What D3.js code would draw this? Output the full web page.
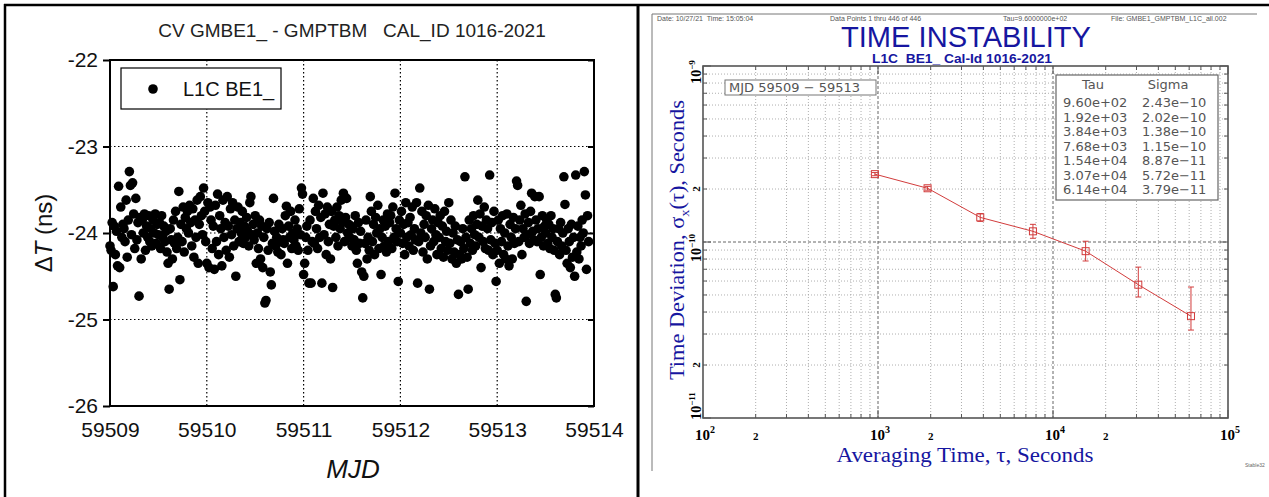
<!DOCTYPE html>
<meta charset="utf-8">
<style>
    body { margin: 0; background: #fff; }
    svg { display: block; font-family: "Liberation Sans", Arial, sans-serif; }
    .dotted line { stroke: #000; stroke-width: 1.2; stroke-dasharray: 1.5,2.5; }
    .minor line { stroke: #9a9a9a; stroke-width: 0.8; stroke-dasharray: 1,2; }
    .major line { stroke: #555; stroke-width: 0.9; stroke-dasharray: 3,2; }
    .tbl { font-family: "DejaVu Sans", sans-serif; font-size: 13px; fill: #555; }
</style>
<svg width="1269" height="497"></svg>
<script src="https://cdn.jsdelivr.net/npm/d3@7"></script>
<script>
    // ---- left panel data: CV time difference, one point every 960 s ----
    var mjdStart = 59509,
        sampleDays = 960 / 86400;

    var deltaT = [
        -24.15, -24.20, -23.88, -24.62, -23.92, -24.25, -23.98, -24.38, -23.46,
        -24.40, -23.70, -24.05, -23.90, -23.95, -24.10, -23.62, -24.28, -23.85,
        -23.29, -23.45, -24.02, -23.42, -23.78, -24.18, -23.60, -24.08, -23.88,
        -24.73, -23.82, -24.30, -23.85, -24.00, -23.78, -24.20, -23.92, -24.05,
        -23.80, -24.10, -23.95, -24.15, -23.85, -24.00, -23.78, -24.12, -23.90,
        -24.02, -23.88, -24.18, -23.80, -24.05, -23.92, -24.10, -23.98, -24.22,
        -24.35, -24.65, -23.95, -24.08, -24.30, -23.85, -24.12, -23.75, -24.18,
        -24.05, -23.52, -24.54, -23.90, -24.10, -23.70, -24.22, -23.82, -23.95,
        -23.75, -24.00, -23.68, -23.88, -24.15, -23.72, -24.28, -23.85, -24.05,
        -23.62, -24.35, -23.90, -23.58, -23.80, -24.02, -23.48, -23.75, -24.10,
        -24.35, -23.65, -24.40, -23.70, -23.85, -24.18, -23.92, -24.42, -23.68,
        -24.10, -23.55, -24.25, -23.80, -23.95, -24.38, -23.62, -24.05, -23.88,
        -24.20, -23.58, -23.92, -24.28, -23.72, -24.02, -23.65, -24.15, -23.85,
        -24.50, -23.95, -23.70, -24.10, -23.88, -24.00, -23.75, -24.12, -23.92,
        -24.05, -23.82, -23.98, -24.15, -23.65, -23.58, -24.02, -23.90, -24.08,
        -23.80, -24.35, -24.00, -24.18, -23.85, -24.30, -23.92, -24.40, -24.05,
        -24.81, -24.78, -23.95, -24.20, -23.88, -24.45, -24.60, -24.12, -23.60,
        -23.98, -24.15, -24.05, -24.22, -23.90, -24.10, -24.25, -23.95, -24.08,
        -24.12, -23.80, -23.69, -24.35, -23.92, -24.05, -23.75, -24.18, -24.00,
        -24.08, -23.85, -24.15, -23.95, -24.20, -23.72, -24.02, -23.48, -23.55,
        -24.48, -24.35, -24.05, -23.92, -24.20, -24.58, -23.85, -24.58, -24.10,
        -23.60, -24.12, -23.75, -23.95, -24.18, -23.68, -24.05, -23.82, -24.58,
        -23.54, -24.02, -23.78, -24.25, -23.70, -24.10, -23.90, -24.30, -23.75,
        -24.63, -23.92, -23.85, -24.05, -23.70, -24.15, -23.80, -23.95, -23.62,
        -23.88, -23.54, -24.10, -23.82, -23.60, -24.00, -23.90, -24.05, -23.92,
        -24.15, -23.95, -24.08, -23.80, -24.20, -24.35, -23.88, -24.12, -23.98,
        -24.45, -24.75, -24.50, -24.12, -23.85, -24.30, -24.05, -24.20, -23.58,
        -23.75, -24.10, -23.90, -24.25, -23.82, -24.00, -23.68, -24.18, -23.95,
        -24.48, -24.05, -23.85, -24.15, -23.92, -24.22, -23.78, -24.10, -23.88,
        -23.80, -24.18, -23.70, -24.05, -23.54, -23.95, -24.10, -24.56, -23.85,
        -24.00, -23.75, -24.12, -23.90, -24.25, -23.65, -24.05, -23.88, -24.15,
        -23.82, -24.02, -23.70, -24.20, -23.95, -24.08, -23.65, -24.58, -24.10,
        -23.48, -24.00, -23.75, -24.22, -23.90, -24.05, -23.80, -24.30, -23.68,
        -24.65, -24.15, -23.95, -23.85, -24.10, -23.72, -24.02, -24.25, -23.88,
        -24.05, -23.80, -24.18, -23.92, -24.28, -23.75, -24.10, -23.98, -24.20,
        -23.65, -24.12, -23.85, -24.30, -24.00, -24.22, -23.92, -24.35, -24.08,
        -24.71, -24.25, -24.10, -24.30, -23.95, -24.18, -23.35, -24.05, -24.28,
        -24.65, -23.85, -24.12, -23.95, -24.20, -23.80, -24.02, -24.15, -23.90,
        -23.62, -24.05, -23.78, -24.40, -23.92, -24.10, -23.70, -24.18, -23.85,
        -23.95, -24.20, -23.33, -24.08, -23.88, -24.25, -23.75, -24.12, -24.56,
        -24.20, -23.85, -24.35, -23.95, -24.10, -23.80, -24.25, -24.00, -24.30,
        -23.78, -24.15, -24.38, -23.90, -24.05, -24.30, -23.82, -24.12, -23.95,
        -23.40, -23.45, -24.10, -23.85, -23.68, -24.25, -23.95, -24.05, -23.78,
        -24.79, -24.02, -23.88, -24.12, -23.75, -23.54, -23.98, -24.08, -23.58,
        -23.85, -24.10, -23.95, -23.58, -24.48, -24.05, -23.80, -24.15, -23.92,
        -24.00, -23.85, -24.12, -23.90, -24.18, -23.80, -24.05, -23.95, -24.20,
        -24.71, -24.75, -24.10, -23.95, -24.25, -23.88, -24.15, -24.00, -23.35,
        -23.67, -24.20, -24.35, -23.95, -24.10, -24.40, -23.90, -24.28, -24.05,
        -24.50, -23.33, -24.22, -23.92, -24.30, -24.05, -24.15, -23.85, -24.00,
        -23.29, -23.56, -24.42, -23.80, -24.10
    ];

    var mjdTicks = [59509, 59510, 59511, 59512, 59513, 59514];
    var dtTicks = [-26, -25, -24, -23, -22];

    // ---- right panel data: time deviation ----
    var tau = [960, 1920, 3840, 7680, 15360, 30720, 61440];
    var sigma = [2.43e-10, 2.02e-10, 1.38e-10, 1.15e-10, 8.87e-11, 5.72e-11, 3.79e-11];
    var sigmaLo = [2.38e-10, 1.97e-10, 1.31e-10, 1.05e-10, 7.8e-11, 4.87e-11, 3.16e-11];
    var sigmaHi = [2.48e-10, 2.07e-10, 1.45e-10, 1.26e-10, 1.01e-10, 7.2e-11, 5.55e-11];
    var tauText = ["9.60e+02", "1.92e+03", "3.84e+03", "7.68e+03", "1.54e+04", "3.07e+04", "6.14e+04"];
    var sigmaText = ["2.43e\u221210", "2.02e\u221210", "1.38e\u221210", "1.15e\u221210", "8.87e\u221211", "5.72e\u221211", "3.79e\u221211"];
    var tauDecades = [2, 3, 4, 5];
    var sigmaDecades = [-11, -10, -9];
    var twoTau = [200, 2000, 20000];
    var twoSigma = [2e-11, 2e-10];

    var svg = d3.select("svg");

    // page / table frame
    var frame = svg.append("g").attr("stroke", "#000");
    frame.append("line").attr("x1", 4).attr("x2", 1269).attr("y1", 5).attr("y2", 5).attr("stroke-width", 2.5);
    frame.append("line").attr("x1", 5).attr("x2", 5).attr("y1", 4).attr("y2", 497).attr("stroke-width", 2.5);
    frame.append("line").attr("x1", 638).attr("x2", 638).attr("y1", 4).attr("y2", 497).attr("stroke-width", 3);

    // ================= left panel =================
    var L = { left: 110, right: 594, top: 60, bottom: 406 };
    var x = d3.scaleLinear().domain([59509, 59514]).range([L.left, L.right]);
    var y = d3.scaleLinear().domain([-26, -22]).range([L.bottom, L.top]);

    var lp = svg.append("g");

    var grid = lp.append("g").attr("class", "dotted");
    grid.selectAll(".gx").data(mjdTicks.slice(1, -1)).join("line")
        .attr("x1", d => x(d)).attr("x2", d => x(d))
        .attr("y1", L.top).attr("y2", L.bottom);
    grid.selectAll(".gy").data(dtTicks.slice(1, -1)).join("line")
        .attr("x1", L.left).attr("x2", L.right)
        .attr("y1", d => y(d)).attr("y2", d => y(d));

    lp.append("g").selectAll("circle").data(deltaT).join("circle")
        .attr("cx", (d, i) => x(mjdStart + i * sampleDays))
        .attr("cy", d => y(d))
        .attr("r", 4.8)
        .attr("fill", "#000");

    lp.append("rect")
        .attr("x", L.left).attr("y", L.top)
        .attr("width", L.right - L.left).attr("height", L.bottom - L.top)
        .attr("fill", "none").attr("stroke", "#000").attr("stroke-width", 2);

    var xAxis = lp.append("g")
        .attr("transform", "translate(0," + L.bottom + ")")
        .call(d3.axisBottom(x).tickValues(mjdTicks).tickFormat(d3.format("d")).tickSize(0).tickPadding(16));
    var yAxis = lp.append("g")
        .attr("transform", "translate(" + L.left + ",0)")
        .call(d3.axisLeft(y).tickValues(dtTicks).tickFormat(d => String(d)).tickSize(7).tickPadding(5));
    var yAxisR = lp.append("g")
        .attr("transform", "translate(" + L.right + ",0)")
        .call(d3.axisLeft(y).tickValues(dtTicks).tickFormat("").tickSize(6));
    [xAxis, yAxis, yAxisR].forEach(function (a) {
        a.select(".domain").remove();
        a.selectAll("line").attr("stroke", "#000").attr("stroke-width", 2);
        a.selectAll("text").attr("fill", "#111").attr("font-size", 21)
            .attr("font-family", "'Liberation Sans', Arial, sans-serif");
    });

    lp.append("text")
        .attr("x", (L.left + L.right) / 2).attr("y", 37)
        .attr("text-anchor", "middle").attr("font-size", 19).attr("fill", "#222")
        .text("CV GMBE1_ - GMPTBM\u00a0\u00a0\u00a0CAL_ID 1016-2021");

    lp.append("text")
        .attr("x", 353).attr("y", 478)
        .attr("text-anchor", "middle").attr("font-size", 26).attr("font-style", "italic").attr("fill", "#111")
        .text("MJD");

    var yl = lp.append("text")
        .attr("transform", "translate(52,233) rotate(-90)")
        .attr("text-anchor", "middle").attr("font-size", 24).attr("fill", "#111");
    yl.append("tspan").text("\u0394");
    yl.append("tspan").attr("font-style", "italic").text("T");
    yl.append("tspan").text(" (ns)");

    // legend
    lp.append("rect").attr("x", 121).attr("y", 68).attr("width", 160).attr("height", 41)
        .attr("fill", "#fff").attr("stroke", "#000").attr("stroke-width", 1.2);
    lp.append("circle").attr("cx", 153).attr("cy", 89).attr("r", 4.8).attr("fill", "#000");
    lp.append("text").attr("x", 183).attr("y", 96).attr("font-size", 20).attr("fill", "#111").text("L1C BE1_");

    // ================= right panel =================
    var R = { left: 703, right: 1228, top: 66, bottom: 418 };
    var xt = d3.scaleLog().domain([1e2, 1e5]).range([R.left, R.right]);
    var ys = d3.scaleLog().domain([1e-11, 1e-9]).range([R.bottom, R.top]);
    var blue = "#1616a0", red = "#d23c3c";

    var rp = svg.append("g");

    rp.append("line").attr("x1", 652).attr("x2", 1257).attr("y1", 14).attr("y2", 14).attr("stroke", "#777");
    rp.append("line").attr("x1", 652).attr("x2", 652).attr("y1", 14).attr("y2", 471).attr("stroke", "#777");

    // header line
    var hdr = rp.append("g").attr("font-size", 7).attr("fill", "#555");
    hdr.append("text").attr("x", 657).attr("y", 21).text("Date: 10/27/21\u00a0\u00a0Time: 15:05:04");
    hdr.append("text").attr("x", 830).attr("y", 21).text("Data Points 1 thru 446 of 446");
    hdr.append("text").attr("x", 1003).attr("y", 21).text("Tau=9.6000000e+02");
    hdr.append("text").attr("x", 1111).attr("y", 21).text("File: GMBE1_GMPTBM_L1C_all.002");

    rp.append("text").attr("x", 966).attr("y", 47).attr("text-anchor", "middle")
        .attr("font-size", 29).attr("fill", blue).attr("textLength", 250).attr("lengthAdjust", "spacingAndGlyphs")
        .text("TIME INSTABILITY");
    rp.append("text").attr("x", 962).attr("y", 63).attr("text-anchor", "middle")
        .attr("font-size", 13).attr("font-weight", "bold").attr("fill", blue)
        .attr("textLength", 180).attr("lengthAdjust", "spacingAndGlyphs")
        .text("L1C\u00a0\u00a0BE1_ Cal-Id 1016-2021");

    // grid
    var isDecade = v => Math.abs(Math.log10(v) - Math.round(Math.log10(v))) < 1e-9;
    var xMinor = xt.ticks().filter(v => v > 1e2 && v < 1e5);
    var yMinor = ys.ticks().filter(v => v > 1e-11 && v < 1e-9);

    var gMinor = rp.append("g").attr("class", "minor");
    gMinor.selectAll(".vx").data(xMinor.filter(v => !isDecade(v))).join("line")
        .attr("x1", d => xt(d)).attr("x2", d => xt(d)).attr("y1", R.top).attr("y2", R.bottom);
    gMinor.selectAll(".hy").data(yMinor.filter(v => !isDecade(v))).join("line")
        .attr("x1", R.left).attr("x2", R.right).attr("y1", d => ys(d)).attr("y2", d => ys(d));
    var gMajor = rp.append("g").attr("class", "major");
    gMajor.selectAll(".vx").data(xMinor.filter(isDecade)).join("line")
        .attr("x1", d => xt(d)).attr("x2", d => xt(d)).attr("y1", R.top).attr("y2", R.bottom);
    gMajor.selectAll(".hy").data(yMinor.filter(isDecade)).join("line")
        .attr("x1", R.left).attr("x2", R.right).attr("y1", d => ys(d)).attr("y2", d => ys(d));

    // frame ticks on all sides
    var tk = rp.append("g").attr("stroke", "#555").attr("stroke-width", 1);
    xt.ticks().forEach(function (v) {
        var len = isDecade(v) ? 8 : 4;
        tk.append("line").attr("x1", xt(v)).attr("x2", xt(v)).attr("y1", R.bottom).attr("y2", R.bottom - len);
        tk.append("line").attr("x1", xt(v)).attr("x2", xt(v)).attr("y1", R.top).attr("y2", R.top + len);
    });
    ys.ticks().forEach(function (v) {
        var len = isDecade(v) ? 8 : 4;
        tk.append("line").attr("y1", ys(v)).attr("y2", ys(v)).attr("x1", R.left).attr("x2", R.left + len);
        tk.append("line").attr("y1", ys(v)).attr("y2", ys(v)).attr("x1", R.right).attr("x2", R.right - len);
    });

    rp.append("rect").attr("x", R.left).attr("y", R.top)
        .attr("width", R.right - R.left).attr("height", R.bottom - R.top)
        .attr("fill", "none").attr("stroke", "#555").attr("stroke-width", 1.6);

    // tick labels
    var tl = rp.append("g").attr("font-family", "'Liberation Serif', 'Times New Roman', serif")
        .attr("font-weight", "bold").attr("fill", "#000");
    tauDecades.forEach(function (e) {
        var t = tl.append("text").attr("x", xt(Math.pow(10, e)) + 2).attr("y", 440)
            .attr("text-anchor", "middle").attr("font-size", 15);
        t.append("tspan").text("10");
        t.append("tspan").attr("font-size", 10).attr("dy", -7).text(e);
    });
    twoTau.forEach(function (v) {
        tl.append("text").attr("x", xt(v)).attr("y", 440).attr("text-anchor", "middle")
            .attr("font-size", 11).text("2");
    });
    sigmaDecades.forEach(function (e, i) {
        var cy = Math.max(R.top + 5, Math.min(R.bottom - 12, ys(Math.pow(10, e)) + 6));
        var t = tl.append("text").attr("transform", "translate(701," + cy + ") rotate(-90)")
            .attr("text-anchor", "middle").attr("font-size", 14);
        t.append("tspan").text("10");
        t.append("tspan").attr("font-size", 9).attr("dy", -6).text("\u2212" + (-e));
    });
    twoSigma.forEach(function (v) {
        tl.append("text").attr("transform", "translate(700," + ys(v) + ") rotate(-90)")
            .attr("text-anchor", "middle").attr("font-size", 11).text("2");
    });

    // axis titles
    var serif = "'Liberation Serif', 'Times New Roman', serif";
    rp.append("text").attr("x", 965).attr("y", 462).attr("text-anchor", "middle")
        .attr("font-family", serif).attr("font-size", 20).attr("fill", blue)
        .attr("textLength", 257).attr("lengthAdjust", "spacingAndGlyphs")
        .text("Averaging Time, \u03c4, Seconds");
    var yt = rp.append("text").attr("transform", "translate(684,240) rotate(-90)")
        .attr("text-anchor", "middle").attr("font-family", serif).attr("font-size", 20).attr("fill", blue)
        .attr("textLength", 280).attr("lengthAdjust", "spacingAndGlyphs");
    yt.append("tspan").text("Time Deviation, \u03c3");
    yt.append("tspan").attr("font-size", 13).attr("dy", 5).text("x");
    yt.append("tspan").attr("dy", -5).text("(\u03c4), Seconds");

    rp.append("text").attr("x", 1245).attr("y", 467).attr("font-size", 5).attr("fill", "#666").text("Stable32");

    // data line, error bars, markers
    var pts = tau.map((t, i) => ({ t: t, s: sigma[i], lo: sigmaLo[i], hi: sigmaHi[i] }));
    rp.append("path").datum(pts)
        .attr("d", d3.line().x(d => xt(d.t)).y(d => ys(d.s)))
        .attr("fill", "none").attr("stroke", red).attr("stroke-width", 1);
    var eb = rp.append("g").attr("stroke", red).attr("stroke-width", 1);
    eb.selectAll(".v").data(pts).join("line")
        .attr("x1", d => xt(d.t)).attr("x2", d => xt(d.t)).attr("y1", d => ys(d.lo)).attr("y2", d => ys(d.hi));
    eb.selectAll(".cl").data(pts).join("line")
        .attr("x1", d => xt(d.t) - 3).attr("x2", d => xt(d.t) + 3).attr("y1", d => ys(d.lo)).attr("y2", d => ys(d.lo));
    eb.selectAll(".ch").data(pts).join("line")
        .attr("x1", d => xt(d.t) - 3).attr("x2", d => xt(d.t) + 3).attr("y1", d => ys(d.hi)).attr("y2", d => ys(d.hi));
    eb.selectAll("rect").data(pts).join("rect")
        .attr("x", d => xt(d.t) - 3.5).attr("y", d => ys(d.s) - 3.5)
        .attr("width", 7).attr("height", 7).attr("fill", "none");

    // MJD range box
    rp.append("rect").attr("x", 725).attr("y", 80).attr("width", 151).attr("height", 15)
        .attr("fill", "#fff").attr("stroke", "#777").attr("stroke-width", 1);
    rp.append("text").attr("class", "tbl").attr("x", 729).attr("y", 92).attr("fill", "#666")
        .text("MJD 59509 \u2212 59513");

    // results table
    rp.append("rect").attr("x", 1056).attr("y", 75).attr("width", 162).attr("height", 125)
        .attr("fill", "#fff").attr("stroke", "#666").attr("stroke-width", 1.2);
    rp.append("text").attr("class", "tbl").attr("x", 1093).attr("y", 89).attr("text-anchor", "middle").text("Tau");
    rp.append("text").attr("class", "tbl").attr("x", 1168).attr("y", 89).attr("text-anchor", "middle").text("Sigma");
    var rowY = d3.scalePoint().domain(d3.range(tau.length)).range([107, 194]);
    rp.selectAll(".tr1").data(tauText).join("text").attr("class", "tbl")
        .attr("x", 1063).attr("y", (d, i) => rowY(i)).text(d => d);
    rp.selectAll(".tr2").data(sigmaText).join("text").attr("class", "tbl")
        .attr("x", 1142).attr("y", (d, i) => rowY(i)).text(d => d);
</script>
